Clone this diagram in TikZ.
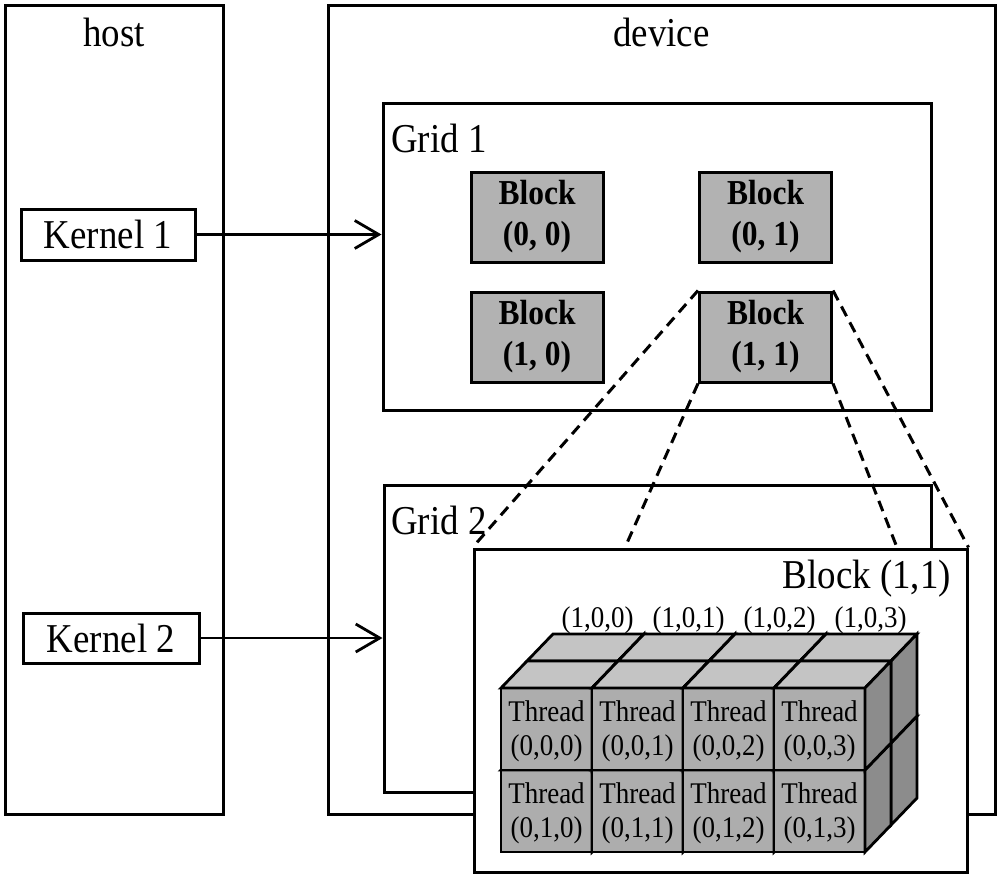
\documentclass[tikz,border=0pt]{standalone}
\usepackage{fontspec}
\setmainfont{Liberation Serif}[FakeStretch=0.9]
\usetikzlibrary{arrows.meta}
\definecolor{blockgray}{gray}{0.70}
\definecolor{frontgray}{gray}{0.68}
\definecolor{topgray}{gray}{0.77}
\definecolor{sidegray}{gray}{0.55}

\begin{document}
\begin{tikzpicture}[x=1pt,y=-1pt,
  panel/.style={draw,line width=3pt,fill=white,inner sep=0pt},
  bigtxt/.style={font=\fontsize{41}{48}\selectfont},
  gridblock/.style={draw,line width=3pt,fill=blockgray,minimum width=132pt,minimum height=90pt,
    inner sep=0pt,align=center,font=\fontsize{35}{41}\selectfont\bfseries},
  threadtxt/.style={inner sep=0pt,align=center,font=\fontsize{30}{34}\selectfont},
  cubeedge/.style={draw,line width=2.8pt},
  flow/.style={line width=2.8pt,-{Straight Barb[length=24pt,width=28pt]}},
  zoomline/.style={line width=3pt,dash pattern=on 11pt off 7pt}]
  \useasboundingbox (0,0) rectangle (1001,876);
  % host and device
  \node[panel,minimum width=667pt,minimum height=809pt] (device) at (661.5,409.5) {};
  \node[panel,minimum width=218pt,minimum height=809pt] (host) at (114,409.5) {};
  \node[bigtxt,anchor=base,inner sep=0pt] (hostlbl) at (114,46) {host};
  \node[bigtxt,anchor=base,inner sep=0pt] (devlbl) at (661.5,46) {device};
  % kernels
  \node[panel,bigtxt,minimum width=174pt,minimum height=51pt] (kern1) at (108,234.5) {Kernel 1};
  \node[panel,bigtxt,minimum width=176pt,minimum height=50pt] (kern2) at (111,638) {Kernel 2};
  % grid 1
  \node[panel,minimum width=548pt,minimum height=307pt] (grid1) at (657,256.5) {};
  \node[bigtxt,anchor=base west,inner sep=0pt] (g1lbl) at (391,152) {Grid 1};
  \node[gridblock] (b00) at (537,217) {Block\\(0, 0)};
  \node[gridblock] (b01) at (765.5,217) {Block\\(0, 1)};
  \node[gridblock] (b10) at (537,337) {Block\\(1, 0)};
  \node[gridblock] (b11) at (765.5,337) {Block\\(1, 1)};
  % grid 2
  \node[panel,minimum width=547pt,minimum height=307pt] (grid2) at (657.5,638.5) {};
  \node[bigtxt,anchor=base west,inner sep=0pt] (g2lbl) at (391,534) {Grid 2};
  \draw[flow] (kern1.east) -- (kern1.east -| grid1.west);
  \draw[flow] (kern2.east) -- (kern2.east -| grid2.west);
  % zoomed block
  \node[panel,minimum width=493pt,minimum height=323pt] (blk) at (720.5,710.5) {};
  \node[bigtxt,anchor=base east,inner sep=0pt] (blklbl) at (951,588) {Block (1,1)};
  \coordinate (cutl) at (625,0 |- blk.north);
  \coordinate (cutr) at (897,0 |- blk.north);
  \draw[zoomline] (b11.north west) -- (blk.north west);
  \draw[zoomline] (b11.south west) -- (cutl);
  \draw[zoomline] (b11.south east) -- (cutr);
  \draw[zoomline] (b11.north east) -- (blk.north east);
  % threads, back layer first
  \foreach \k in {1,0} {
    \foreach \r in {1,0} {
      \foreach \c in {0,1,2,3} {
        \pgfmathsetmacro{\xa}{501+91*\c+26*\k}
        \pgfmathsetmacro{\ya}{688+82*\r-27*\k}
        \draw[cubeedge,fill=frontgray] (\xa,\ya) rectangle ++(91,82);
        \draw[cubeedge,fill=topgray] (\xa,\ya) -- ++(26,-27) -- ++(91,0) -- ++(-26,27) -- cycle;
        \draw[cubeedge,fill=sidegray] (\xa+91,\ya) -- ++(26,-27) -- ++(0,82) -- ++(-26,27) -- cycle;
      }
    }
  }
  \foreach \r in {0,1}
    \foreach \c in {0,...,3}
      \node[threadtxt] (th\r\c) at (546.5+91*\c,731+82*\r) {Thread\\(0,\r,\c)};
  \foreach \c in {0,...,3}
    \node[threadtxt,anchor=base] (tl\c) at (597.5+91*\c,627) {(1,0,\c)};
\end{tikzpicture}
\end{document}
